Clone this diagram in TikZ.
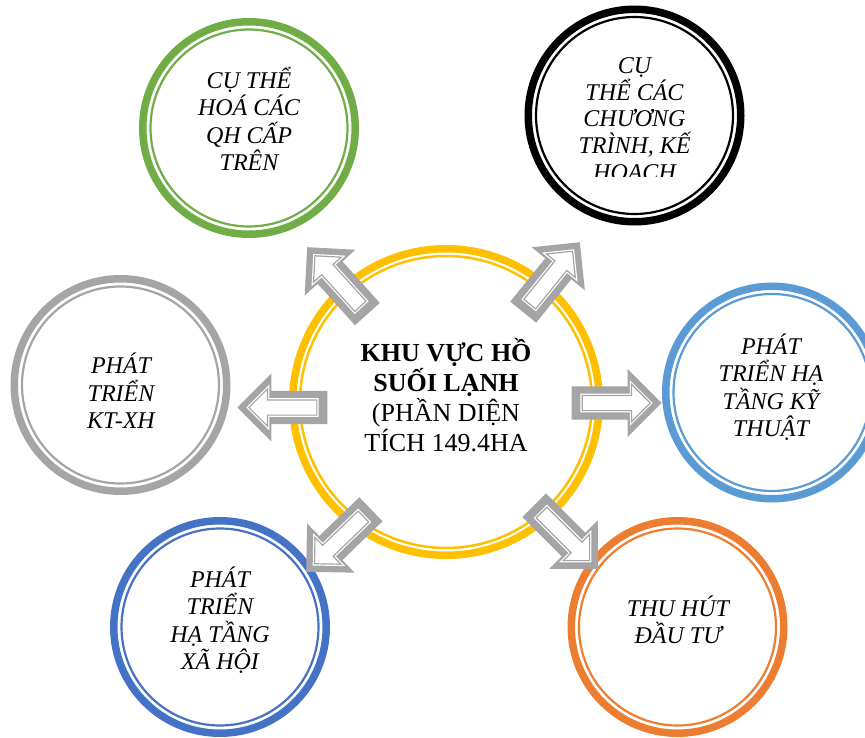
\documentclass[tikz,border=0pt]{standalone}
\usepackage{fontspec}
\setmainfont{Liberation Serif}
\usetikzlibrary{shapes.arrows, calc}

\definecolor{hubyellow}{HTML}{FFC000}
\definecolor{ringgreen}{HTML}{70AD47}
\definecolor{ringsky}{HTML}{5B9BD5}
\definecolor{ringblue}{HTML}{4472C4}
\definecolor{ringorange}{HTML}{ED7D31}
\definecolor{ringgray}{HTML}{A5A5A5}
\definecolor{arrowgray}{HTML}{A5A5A5}

\begin{document}
\begin{tikzpicture}[
    x=1pt, y=-1pt,
    ring/.style={circle, draw=#1, line width=7.5pt, minimum size=212.5pt, inner sep=0pt},
    hubring/.style={circle, draw=hubyellow, line width=7.5pt, minimum size=306.5pt, inner sep=0pt},
    goal/.style={align=center, font=\fontsize{24}{27.5}\selectfont\itshape, inner sep=0pt},
    hubtext/.style={align=center, font=\fontsize{26}{30}\selectfont, inner sep=0pt},
    blockarrow/.style={single arrow, fill=arrowgray, minimum height=90pt, inner xsep=0pt,
        inner ysep=16.5pt, single arrow head extend=17.5pt, anchor=tip},
    innerarrow/.style={single arrow, fill=white, draw=white, double=arrowgray, double distance=1.2pt,
        line width=1.2pt, minimum height=68pt, inner xsep=0pt, inner ysep=7pt,
        single arrow head extend=11pt, anchor=tip}
]
    \useasboundingbox (0,0) rectangle (865,738);

    \node[hubring] (hub) at (446,402) {};
    \node[ring=ringgreen] (g) at (249,128) {};
    \node[ring=black] (k) at (634.5,115.5) {};
    \node[ring=ringsky] (r) at (772,392.5) {};
    \node[ring=ringorange] (o) at (677.5,627) {};
    \node[ring=ringblue] (b) at (220,627) {};
    \node[ring=ringgray] (s) at (120.5,385) {};

    \draw[hubyellow, line width=2.5pt] (hub.center) circle (146pt);
    \foreach \n/\c in {g/ringgreen, k/black, r/ringsky, o/ringorange, b/ringblue, s/ringgray}
        \draw[\c, line width=2.2pt] (\n.center) circle (98.5pt);

    \node[hubtext] (hubt) at (446,395) {\textbf{KHU VỰC HỒ}\\\textbf{SUỐI LẠNH}\\(PHẦN DIỆN\\TÍCH 149.4HA};
    \node[goal] (gt) at (249,119) {CỤ THỂ\\HOÁ CÁC\\QH CẤP\\TRÊN};
    \begin{scope}
        \clip (520,0) rectangle (750,177);
        \node[goal, font=\fontsize{24}{26.8}\selectfont\itshape] (kt) at (634.5,121) {CỤ\\THỂ CÁC\\CHƯƠNG\\TRÌNH, KẾ\\HOẠCH};
    \end{scope}
    \node[goal] (rt) at (771,387) {PHÁT\\TRIỂN HẠ\\TẦNG KỸ\\THUẬT};
    \node[goal] (ot) at (678,620) {THU HÚT\\ĐẦU TƯ};
    \node[goal] (bt) at (220,620) {PHÁT\\TRIỂN\\HẠ TẦNG\\XÃ HỘI};
    \node[goal] (st) at (121,391) {PHÁT\\TRIỂN\\KT-XH};

    \foreach \n/\x/\y/\a in {aUL/307/247/132, aUR/580/242/51, aR/662/403/0,
                             aL/237/407.5/180, aLL/306/572/-136, aLR/598/569/-45} {
        \node[blockarrow, rotate=\a] (\n) at (\x,\y) {};
        \node[innerarrow, rotate=\a] (\n-in) at ($(\n.tip)!11pt!(\n.tail)$) {};
    }
\end{tikzpicture}
\end{document}
